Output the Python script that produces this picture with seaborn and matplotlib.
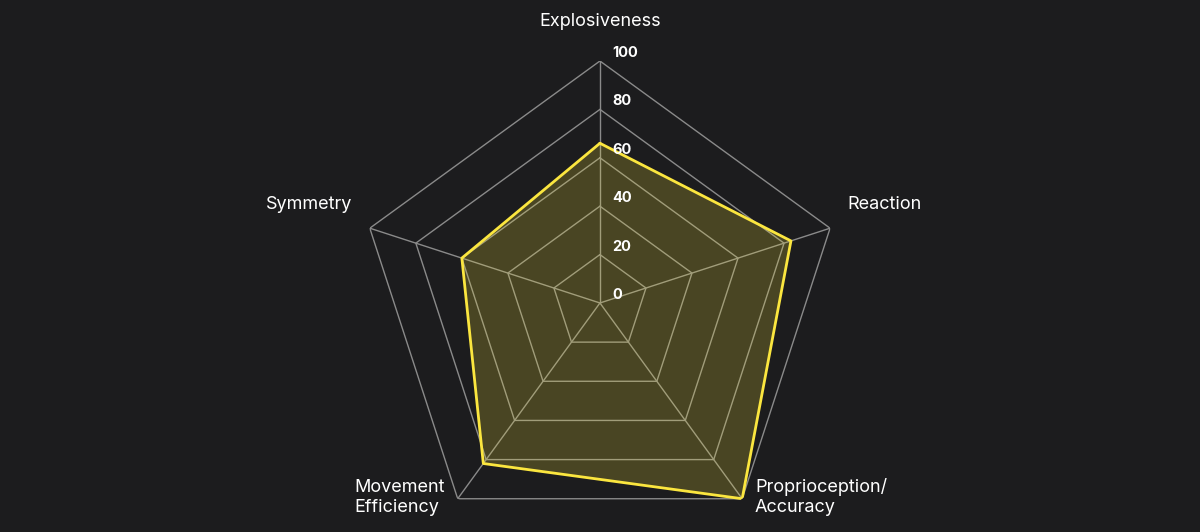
import numpy as np
import pandas as pd
import matplotlib
matplotlib.use("Agg")
import matplotlib.pyplot as plt
import matplotlib.transforms as mtransforms
import seaborn as sns

categories = ["Explosiveness", "Reaction", "Proprioception/\nAccuracy", "Movement\nEfficiency", "Symmetry"]
values = [66, 83, 100, 82, 60]
tick_values = [0, 20, 40, 60, 80, 100]
tick_labels = ["0", "20", "40", "60", "80", "100"]

BG = "#1c1c1e"
GRID = "#8a8a8a"
LINE = "#fbe63f"
FILL = "#ffeb3b"

sns.set_theme(style="dark")
plt.rcParams["font.family"] = ["Inter", "DejaVu Sans"]

fig = plt.figure(figsize=(12, 5.32), dpi=100, facecolor=BG)
ax = fig.add_axes([0.2983, -0.0244, 0.4033, 0.9098], projection="polar")
ax.set_facecolor(BG)
ax.set_theta_zero_location("N")
ax.set_theta_direction(-1)
ax.set_ylim(0, 100)
ax.grid(False)
ax.spines["polar"].set_visible(False)
ax.set_xticks([])
ax.set_yticks([])
ax.patch.set_alpha(0)

n = len(categories)
angles = np.linspace(0, 2 * np.pi, n, endpoint=False)
closed_angles = np.append(angles, 2 * np.pi)

# polygon grid
for v in tick_values[1:]:
    ax.plot(closed_angles, [v] * (n + 1), color=GRID, lw=1.0, zorder=1)
for a in angles:
    ax.plot([a, a], [0, 100], color=GRID, lw=1.0, zorder=1)

df = pd.DataFrame({"theta": closed_angles, "r": values + [values[0]]})
ax.fill(df["theta"], df["r"], color=FILL, alpha=0.2, zorder=2, lw=0)
sns.lineplot(data=df, x="theta", y="r", ax=ax, sort=False, estimator=None,
             color=LINE, lw=2.0, zorder=3)
ax.set_xlabel("")
ax.set_ylabel("")

# radial tick labels
off = mtransforms.ScaledTranslation(12 / 100, 8 / 100, fig.dpi_scale_trans)
for v, lab in zip(tick_values, tick_labels):
    ax.text(0, v, lab, transform=ax.transData + off, ha="left", va="center",
            color="white", fontsize=10.5, fontweight="bold", zorder=5)

# category labels: (radius fraction, ha, va, extra dy px)
label_specs = [
    (1.13, "center", "bottom", 0),
    (1.075, "left", "bottom", 10),
    (1.09, "left", "bottom", 0),
    (1.09, "right", "bottom", 0),
    (1.075, "right", "bottom", 10),
]
for a, cat, (rr, ha, va, dy) in zip(angles, categories, label_specs):
    tr = ax.transData + mtransforms.ScaledTranslation(0, dy / 100, fig.dpi_scale_trans)
    ax.text(a, rr * 100, cat, transform=tr, ha=ha, va=va, color="white", fontsize=13,
            linespacing=1.25, multialignment="left", clip_on=False, zorder=5)

ax.set_ylim(0, 100)
fig.savefig("out.png", dpi=100, facecolor=BG)
